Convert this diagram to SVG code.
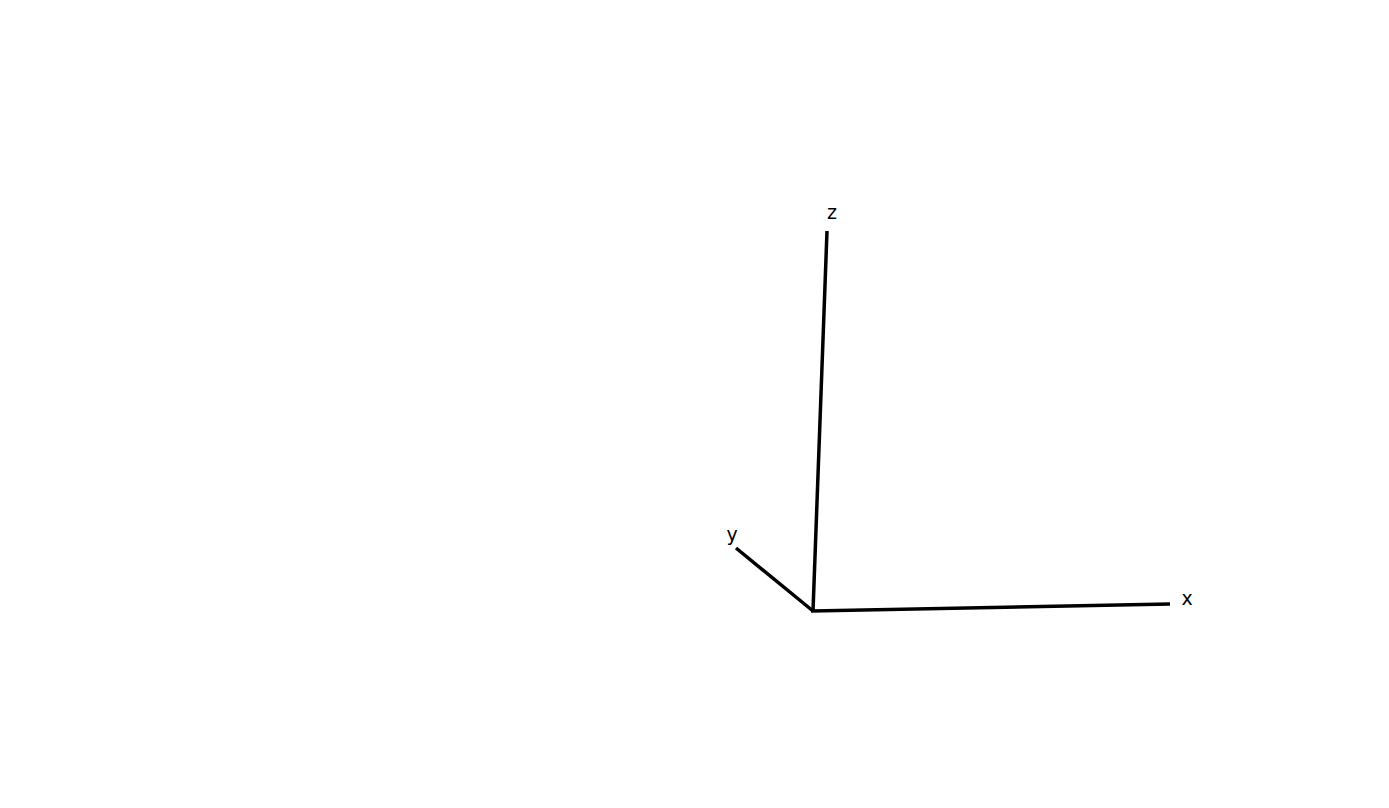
<svg xmlns="http://www.w3.org/2000/svg" width="1389" height="808" viewBox="0 0 1389 808">
<style>
.ax{stroke:#000;stroke-width:3.5;fill:none;stroke-linecap:butt}
.lb{font-family:"DejaVu Sans",sans-serif;font-size:19px;fill:#000;text-anchor:middle}
</style>
<rect width="1389" height="808" fill="#fff"/>
<g id="axes">
<path class="ax" d="M827,231 L813,611 L1170,604"/>
<path class="ax" d="M813,611 L736,548"/>
</g>
<g id="label-z"><text class="lb" x="832" y="219">z</text></g>
<g id="label-y"><text class="lb" x="732" y="541">y</text></g>
<g id="label-x"><text class="lb" x="1187" y="605">x</text></g>
</svg>
